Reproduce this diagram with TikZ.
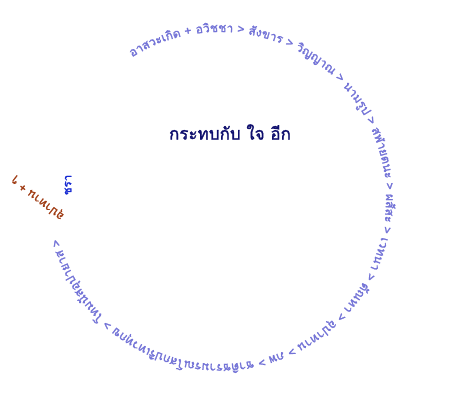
\documentclass[tikz,border=0pt]{standalone}
\usepackage{fontspec}
\usetikzlibrary{decorations.text,calc}
\newfontfamily\thaifont[Script=Thai]{Loma}
\newfontfamily\thaibold[Script=Thai,FakeBold=1.6]{Loma}
\definecolor{circ}{RGB}{115,115,215}
\definecolor{navyt}{RGB}{15,15,110}
\definecolor{brownt}{RGB}{160,60,20}
\definecolor{bluet}{RGB}{20,40,210}
\tikzset{
  ringtext/.style={decorate, decoration={text along path, text align=left,
    text={|\thaibold\fontsize{12}{14}\selectfont\color{circ}|#1}}},
  sidelabel/.style={font=\thaibold\fontsize{11.5}{13}\selectfont, inner sep=0pt}
}
\begin{document}
\begin{tikzpicture}[x=1pt,y=1pt]
\useasboundingbox (0,0) rectangle (450,407);
\fill[white] (0,0) rectangle (450,407);
\coordinate (c) at (220,209);
\path[ringtext={อาสวะเ{กิ}ด + อ{วิ}ชชา > {สั}งขาร > {วิ}ญญาณ > นาม{รู}ป > สฬายตนะ > ผ{สั}สะ > เวทนา > {ตั}ณหา > {อุ}ปาทาน > ภพ > ชา{ติ}ชรามรณโสกป{ริ}เทว{ทุ}กข > โทม{นั}ส{อุ}ปายาส >}]
  ($(c)+(122:166)$) arc[start angle=122, end angle=-168, radius=166];
\node[font=\thaibold\fontsize{17}{20}\selectfont, text=navyt] (centre) at (230,275) {กระทบ{กั}บ ใจ {อี}ก};
\node[sidelabel, text=bluet, rotate=90] (chara) at (68,222) {ชรา};
\node[sidelabel, text=brownt, rotate=142] (loop) at (38,209) {{อุ}ปาทาน + ๆ};
\end{tikzpicture}
\end{document}
